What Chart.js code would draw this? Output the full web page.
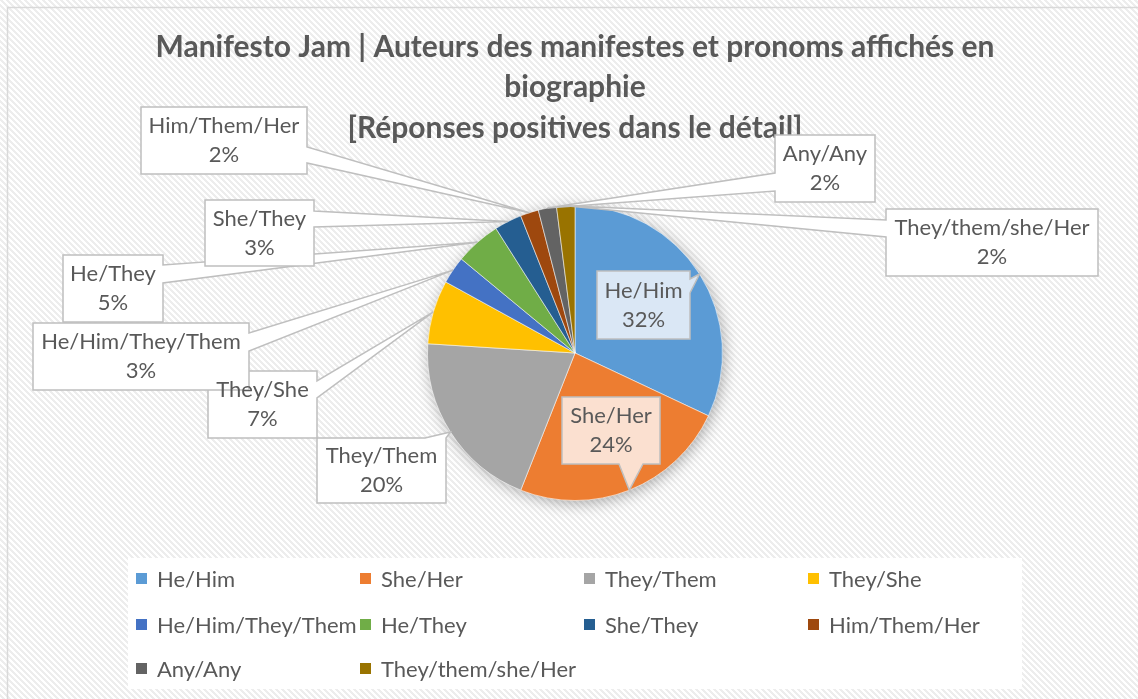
<!DOCTYPE html>
<html>
<head>
<meta charset="utf-8">
<script src="https://cdn.jsdelivr.net/npm/chart.js@4.4.0/dist/chart.umd.min.js"></script>
<style>
  html, body { margin: 0; padding: 0; background: #ffffff; }
  canvas { display: block; }
</style>
</head>
<body>
<canvas id="c" width="1138" height="699"></canvas>
<script>
// ---------- DATA ----------
const categories = ['He/Him', 'She/Her', 'They/Them', 'They/She', 'He/Him/They/Them',
  'He/They', 'She/They', 'Him/Them/Her', 'Any/Any', 'They/them/she/Her'];
const values = [32, 24, 20, 7, 3, 5, 3, 2, 2, 2];
const titleLines = ['Manifesto Jam | Auteurs des manifestes et pronoms affichés en',
  'biographie', '[Réponses positives dans le détail]'];

// ---------- STYLES ----------
const sliceColors = ['#5B9BD5', '#ED7D31', '#A5A5A5', '#FFC000', '#4472C4',
  '#70AD47', '#255E91', '#9E480E', '#636363', '#997300'];
const calloutFills = ['#DAE7F5', '#FBE0D0', '#FFFFFF', '#FFFFFF', '#FFFFFF',
  '#FFFFFF', '#FFFFFF', '#FFFFFF', '#FFFFFF', '#FFFFFF'];
const textColor = '#595959';
const FONT = 'Lato, "Open Sans", sans-serif';

// ---------- LAYOUT (callout boxes: left, top, right, bottom; tail side and attach span) ----------
const calloutLayout = [
  { box: [597, 271, 690, 339], side: 'right',  a: 279, b: 293 },
  { box: [562, 397, 660, 464], side: 'bottom', a: 619, b: 643 },
  { box: [317, 438, 446, 503], side: 'top',    a: 425, b: 446 },
  { box: [208, 371, 317, 438], side: 'right',  a: 381, b: 398 },
  { box: [33, 323, 249, 390],  side: 'right',  a: 333, b: 351 },
  { box: [63, 255, 163, 322],  side: 'right',  a: 265, b: 283 },
  { box: [205, 200, 314, 266], side: 'right',  a: 211, b: 227 },
  { box: [141, 107, 307, 174], side: 'right',  a: 147, b: 163 },
  { box: [775, 135, 875, 202], side: 'left',   a: 173, b: 191 },
  { box: [886, 209, 1098, 276], side: 'left',  a: 220, b: 237 }
];
const legendLayout = { box: [128, 558, 1022, 689], colX: [136, 360, 584, 808], rowY: [579, 625, 669], cols: 4 };

// ---------- PLUGINS ----------
function makeStripePattern(ctx) {
  const p = 6, w = 3;
  const c = document.createElement('canvas');
  c.width = p; c.height = p;
  const g = c.getContext('2d');
  g.fillStyle = '#ffffff'; g.fillRect(0, 0, p, p);
  g.fillStyle = '#ededed';
  for (let y = 0; y < p; y++) for (let x = 0; x < p; x++) {
    if ((((x - y) % p) + p) % p < w) g.fillRect(x, y, 1, 1);
  }
  return ctx.createPattern(c, 'repeat');
}

const backgroundPlugin = {
  id: 'bg',
  beforeDraw(chart) {
    const ctx = chart.ctx;
    ctx.save();
    ctx.fillStyle = makeStripePattern(ctx);
    ctx.fillRect(0, 0, chart.width, chart.height);
    ctx.strokeStyle = '#d9d9d9';
    ctx.lineWidth = 1.5;
    ctx.strokeRect(7.5, 7.5, chart.width + 10, chart.height + 10);
    ctx.restore();
  }
};

const shadowPlugin = {
  id: 'pieShadow',
  beforeDatasetsDraw(chart) {
    const arc = chart.getDatasetMeta(0).data[0];
    if (!arc) return;
    const { x, y, outerRadius } = arc.getProps(['x', 'y', 'outerRadius'], true);
    const ctx = chart.ctx;
    ctx.save();
    ctx.shadowColor = 'rgba(0,0,0,0.35)';
    ctx.shadowBlur = 16;
    ctx.shadowOffsetX = 2;
    ctx.shadowOffsetY = 3;
    ctx.fillStyle = '#a0a0a0';
    ctx.beginPath();
    ctx.arc(x, y, outerRadius - 1, 0, Math.PI * 2);
    ctx.fill();
    ctx.restore();
  }
};

const calloutPlugin = {
  id: 'callouts',
  afterDatasetsDraw(chart) {
    const ctx = chart.ctx;
    const meta = chart.getDatasetMeta(0);
    const data = chart.data.datasets[0].data;
    const total = data.reduce((s, v) => s + v, 0);
    const shapes = [];
    meta.data.forEach((arc, i) => {
      const p = arc.getProps(['x', 'y', 'startAngle', 'endAngle', 'outerRadius'], true);
      const mid = (p.startAngle + p.endAngle) / 2;
      const tx = p.x + Math.cos(mid) * p.outerRadius;
      const ty = p.y + Math.sin(mid) * p.outerRadius;
      const L = calloutLayout[i];
      const [l, t, r, b] = L.box;
      let pts;
      if (L.side === 'right') pts = [[l, t], [r, t], [r, L.a], [tx, ty], [r, L.b], [r, b], [l, b]];
      else if (L.side === 'left') pts = [[l, t], [r, t], [r, b], [l, b], [l, L.b], [tx, ty], [l, L.a]];
      else if (L.side === 'top') pts = [[l, t], [L.a, t], [tx, ty], [L.b, t], [r, t], [r, b], [l, b]];
      else pts = [[l, t], [r, t], [r, b], [L.b, b], [tx, ty], [L.a, b], [l, b]];
      shapes.push({ pts, i, l, t, r, b });
    });
    ctx.save();
    shapes.forEach(s => {
      ctx.beginPath();
      s.pts.forEach((pt, k) => k ? ctx.lineTo(pt[0], pt[1]) : ctx.moveTo(pt[0], pt[1]));
      ctx.closePath();
      ctx.fillStyle = calloutFills[s.i];
      ctx.fill();
      ctx.strokeStyle = '#bfbfbf';
      ctx.lineWidth = 1.5;
      ctx.lineJoin = 'miter';
      ctx.stroke();
    });
    ctx.fillStyle = textColor;
    ctx.font = '22px ' + FONT;
    ctx.textAlign = 'center';
    ctx.textBaseline = 'middle';
    shapes.forEach(s => {
      const cx = (s.l + s.r) / 2, cy = (s.t + s.b) / 2;
      const pct = Math.round(data[s.i] / total * 100) + '%';
      ctx.fillText(chart.data.labels[s.i], cx, cy - 14.5);
      ctx.fillText(pct, cx, cy + 14.5);
    });
    ctx.restore();
  }
};

const legendPlugin = {
  id: 'gridLegend',
  afterDraw(chart) {
    const ctx = chart.ctx;
    const [l, t, r, b] = legendLayout.box;
    ctx.save();
    ctx.fillStyle = '#ffffff';
    ctx.fillRect(l, t, r - l, b - t);
    ctx.font = '22px ' + FONT;
    ctx.textAlign = 'left';
    ctx.textBaseline = 'middle';
    chart.data.labels.forEach((lab, i) => {
      const col = i % legendLayout.cols, row = Math.floor(i / legendLayout.cols);
      const x = legendLayout.colX[col], y = legendLayout.rowY[row];
      ctx.fillStyle = chart.data.datasets[0].backgroundColor[i];
      ctx.fillRect(x, y - 6, 11, 11);
      ctx.fillStyle = textColor;
      ctx.fillText(lab, x + 21, y + 1);
    });
    ctx.restore();
  }
};

// ---------- CHART ----------
new Chart(document.getElementById('c'), {
  type: 'pie',
  data: {
    labels: categories,
    datasets: [{
      data: values,
      backgroundColor: sliceColors,
      borderColor: 'rgba(255,255,255,0.55)',
      borderWidth: 1
    }]
  },
  options: {
    responsive: false,
    animation: false,
    events: [],
    layout: { padding: { left: 12, right: 0, top: 0, bottom: 198 } },
    plugins: {
      legend: { display: false },
      tooltip: { enabled: false },
      title: {
        display: true,
        text: titleLines,
        color: textColor,
        font: { family: FONT, size: 30, weight: 'bold', lineHeight: 1.35 },
        padding: { top: 27, bottom: 56.5 }
      }
    }
  },
  plugins: [backgroundPlugin, shadowPlugin, calloutPlugin, legendPlugin]
});
</script>
</body>
</html>
